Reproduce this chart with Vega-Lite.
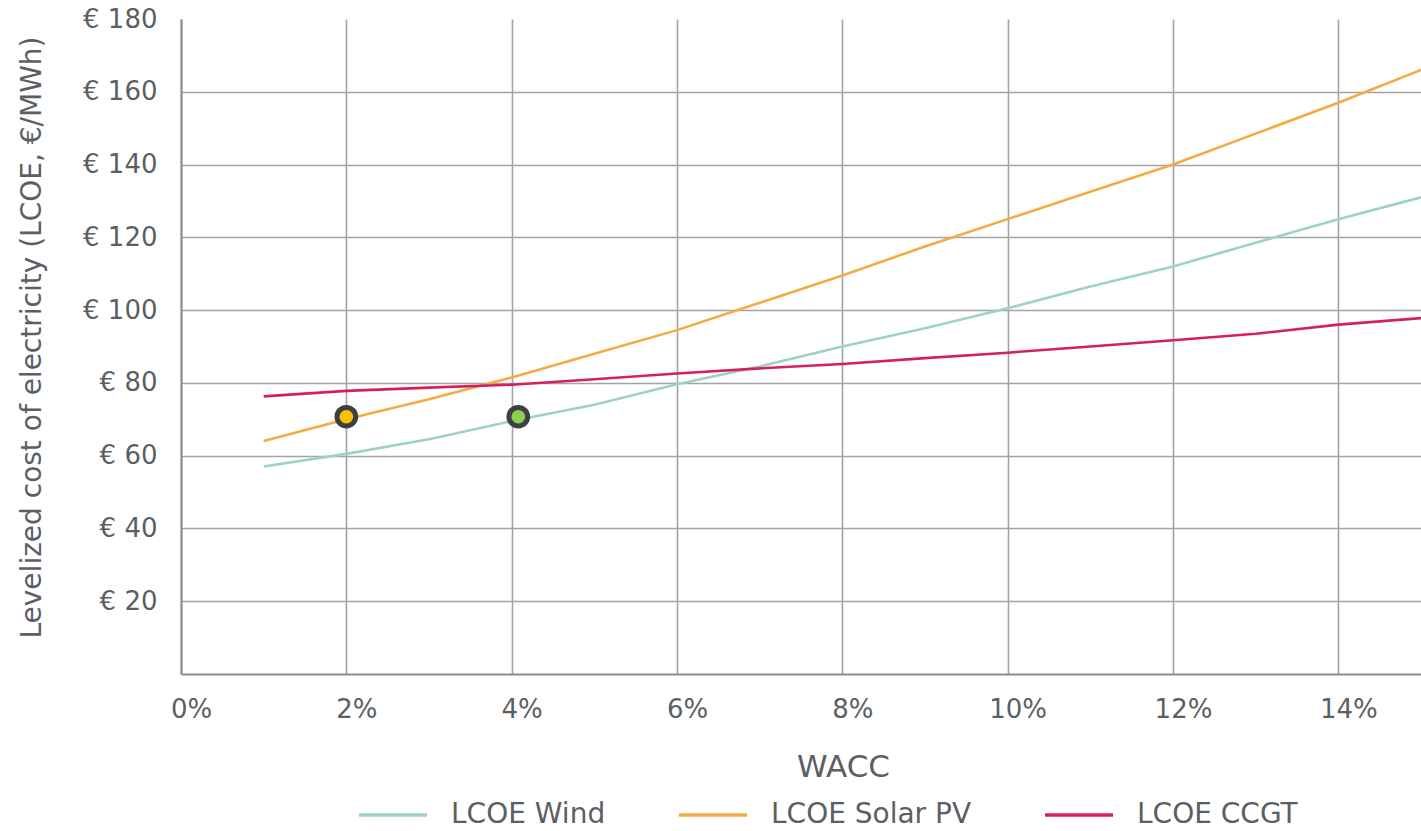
{
  "$schema": "https://vega.github.io/schema/vega-lite/v6.json",
  "width": 1240,
  "height": 655,
  "autosize": "none",
  "padding": {"left": 181, "top": 19, "right": 0, "bottom": 157},
  "background": "white",
  "config": {
    "font": "DejaVu Sans",
    "view": {"stroke": null},
    "axis": {
      "labelColor": "#5b5f64",
      "titleColor": "#5b5f64",
      "labelFont": "DejaVu Sans",
      "titleFont": "DejaVu Sans",
      "titleFontWeight": "normal",
      "gridColor": "#a3a3a3",
      "gridWidth": 1.6,
      "domainColor": "#8c8c8c",
      "domainWidth": 2,
      "ticks": false
    },
    "legend": {"labelFont": "DejaVu Sans", "labelColor": "#5b5f64"}
  },
  "datasets": {
    "curves": [
      {"series": "LCOE Wind", "wacc": 1, "lcoe": 57.0},
      {"series": "LCOE Wind", "wacc": 2, "lcoe": 60.5},
      {"series": "LCOE Wind", "wacc": 3, "lcoe": 64.5},
      {"series": "LCOE Wind", "wacc": 4, "lcoe": 69.5},
      {"series": "LCOE Wind", "wacc": 5, "lcoe": 74.0},
      {"series": "LCOE Wind", "wacc": 6, "lcoe": 79.6},
      {"series": "LCOE Wind", "wacc": 7, "lcoe": 84.5},
      {"series": "LCOE Wind", "wacc": 8, "lcoe": 90.0},
      {"series": "LCOE Wind", "wacc": 9, "lcoe": 95.0},
      {"series": "LCOE Wind", "wacc": 10, "lcoe": 100.5},
      {"series": "LCOE Wind", "wacc": 11, "lcoe": 106.5},
      {"series": "LCOE Wind", "wacc": 12, "lcoe": 112.0},
      {"series": "LCOE Wind", "wacc": 13, "lcoe": 118.5},
      {"series": "LCOE Wind", "wacc": 14, "lcoe": 125.0},
      {"series": "LCOE Wind", "wacc": 15, "lcoe": 131.0},
      {"series": "LCOE Solar PV", "wacc": 1, "lcoe": 64.0},
      {"series": "LCOE Solar PV", "wacc": 2, "lcoe": 70.0},
      {"series": "LCOE Solar PV", "wacc": 3, "lcoe": 75.5},
      {"series": "LCOE Solar PV", "wacc": 4, "lcoe": 81.5},
      {"series": "LCOE Solar PV", "wacc": 5, "lcoe": 88.0},
      {"series": "LCOE Solar PV", "wacc": 6, "lcoe": 94.5},
      {"series": "LCOE Solar PV", "wacc": 7, "lcoe": 102.0},
      {"series": "LCOE Solar PV", "wacc": 8, "lcoe": 109.5},
      {"series": "LCOE Solar PV", "wacc": 9, "lcoe": 117.5},
      {"series": "LCOE Solar PV", "wacc": 10, "lcoe": 125.0},
      {"series": "LCOE Solar PV", "wacc": 11, "lcoe": 132.5},
      {"series": "LCOE Solar PV", "wacc": 12, "lcoe": 140.0},
      {"series": "LCOE Solar PV", "wacc": 13, "lcoe": 148.5},
      {"series": "LCOE Solar PV", "wacc": 14, "lcoe": 157.0},
      {"series": "LCOE Solar PV", "wacc": 15, "lcoe": 166.0},
      {"series": "LCOE CCGT", "wacc": 1, "lcoe": 76.3},
      {"series": "LCOE CCGT", "wacc": 2, "lcoe": 77.8},
      {"series": "LCOE CCGT", "wacc": 3, "lcoe": 78.7},
      {"series": "LCOE CCGT", "wacc": 4, "lcoe": 79.5},
      {"series": "LCOE CCGT", "wacc": 5, "lcoe": 81.0},
      {"series": "LCOE CCGT", "wacc": 6, "lcoe": 82.6},
      {"series": "LCOE CCGT", "wacc": 7, "lcoe": 84.0},
      {"series": "LCOE CCGT", "wacc": 8, "lcoe": 85.2},
      {"series": "LCOE CCGT", "wacc": 9, "lcoe": 86.8},
      {"series": "LCOE CCGT", "wacc": 10, "lcoe": 88.3},
      {"series": "LCOE CCGT", "wacc": 11, "lcoe": 90.0},
      {"series": "LCOE CCGT", "wacc": 12, "lcoe": 91.7},
      {"series": "LCOE CCGT", "wacc": 13, "lcoe": 93.5},
      {"series": "LCOE CCGT", "wacc": 14, "lcoe": 96.0},
      {"series": "LCOE CCGT", "wacc": 15, "lcoe": 97.8}
    ],
    "markers": [
      {"tech": "Solar PV", "wacc": 2.0, "lcoe": 70.7},
      {"tech": "Wind", "wacc": 4.08, "lcoe": 70.7}
    ]
  },
  "layer": [
    {
      "data": {"name": "curves"},
      "mark": {"type": "line", "strokeWidth": 2.6, "clip": true},
      "encoding": {
        "x": {
          "field": "wacc",
          "type": "quantitative",
          "scale": {"domain": [0, 15], "nice": false},
          "axis": {
            "values": [0, 2, 4, 6, 8, 10, 12, 14],
            "labelExpr": "datum.value + '%'",
            "labelFontSize": 26,
            "labelPadding": 22,
            "labelFlush": false,
            "labelAlign": "center",
            "labelOffset": 10,
            "title": "WACC",
            "titleFontSize": 31,
            "titleX": 662,
            "titleY": 93,
            "titleBaseline": "middle",
            "titleAlign": "center"
          }
        },
        "y": {
          "field": "lcoe",
          "type": "quantitative",
          "scale": {"domain": [0, 180], "nice": false},
          "axis": {
            "values": [20, 40, 60, 80, 100, 120, 140, 160, 180],
            "labelExpr": "'€ ' + datum.value",
            "labelFontSize": 26,
            "labelPadding": 24,
            "gridOpacity": {"condition": {"test": "datum.value === 180", "value": 0}, "value": 1},
            "title": "Levelized cost of electricity (LCOE, €/MWh)",
            "titleFontSize": 28,
            "titleAngle": -90,
            "titleX": -149,
            "titleY": 318,
            "titleAlign": "center",
            "titleBaseline": "middle"
          }
        },
        "color": {
          "field": "series",
          "type": "nominal",
          "scale": {
            "domain": ["LCOE Wind", "LCOE Solar PV", "LCOE CCGT"],
            "range": ["#9fd3bd", "#f3ab42", "#d5215b"]
          },
          "legend": {
            "title": null,
            "orient": "none",
            "direction": "horizontal",
            "legendX": 176,
            "legendY": 760,
            "symbolType": "stroke",
            "symbolSize": 4624,
            "symbolStrokeWidth": 3.5,
            "labelFontSize": 28,
            "labelOffset": 22,
            "columnPadding": 66,
            "labelLimit": 400
          }
        }
      }
    },
    {
      "data": {"name": "markers"},
      "mark": {"type": "point", "filled": true, "size": 350, "stroke": "#3b4046", "strokeWidth": 5, "opacity": 1},
      "encoding": {
        "x": {"field": "wacc", "type": "quantitative"},
        "y": {"field": "lcoe", "type": "quantitative"},
        "fill": {
          "field": "tech",
          "type": "nominal",
          "scale": {"domain": ["Wind", "Solar PV"], "range": ["#8fcf4f", "#ffbe00"]},
          "legend": null
        }
      }
    }
  ]
}
